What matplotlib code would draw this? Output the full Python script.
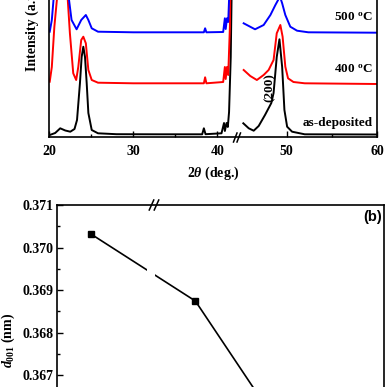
import numpy as np
import matplotlib
matplotlib.use("Agg")
import matplotlib.pyplot as plt
from matplotlib.lines import Line2D

plt.rcParams['font.family'] = ['Liberation Serif', 'DejaVu Serif']
plt.rcParams['font.weight'] = 'bold'
plt.rcParams['mathtext.fontset'] = 'custom'
plt.rcParams['mathtext.rm'] = 'Liberation Serif:bold'
plt.rcParams['mathtext.bf'] = 'Liberation Serif:bold'
plt.rcParams['mathtext.it'] = 'Liberation Serif:italic:bold'

# ---- (a) XRD patterns (stacked intensity, a.u.)
black_l_x = [20.05, 20.7, 21.3, 21.9, 22.5, 23.0, 23.3, 23.65, 23.85, 24.05, 24.25, 24.45,
             24.65, 25.05, 25.8, 28.0, 33.0, 38.2, 38.4, 38.6, 40.5, 40.8, 40.9, 41.1,
             41.25, 41.4, 41.6, 41.8, 42.0]
black_l_y = [2, 4, 8.7, 6.5, 5.3, 8, 17, 54, 80, 90.3, 80, 54,
             24, 7, 3.7, 2.8, 2.7, 2.7, 8.7, 2.8, 3.7, 14, 6, 14,
             10, 25, 80, 200, 400]
black_r_x = [45.2, 45.8, 46.35, 46.9, 47.6, 48.3, 48.55, 48.9, 49.2, 49.5, 49.75, 50.05,
             50.6, 52.0, 60.0]
black_r_y = [13.7, 8.7, 6.3, 11, 22, 34, 44, 80, 97.7, 70, 27, 10.3,
             5.3, 2.7, 2.5]

red_l_x = [20.05, 20.3, 20.6, 20.9, 21.55, 22.2, 22.45, 22.85, 23.2, 23.45, 23.8, 24.05,
           24.35, 24.65, 25.05, 25.8, 30.0, 38.4, 38.55, 38.7, 40.7, 40.9, 41.0, 41.15,
           41.3, 41.5, 41.7, 41.9]
red_l_y = [55.3, 70, 110, 137, 260, 137, 104, 63.7, 57, 70, 97, 100.3,
           93.7, 67, 57, 54.3, 53.7, 53.7, 59.7, 53.7, 55, 70, 58, 70,
           62, 110, 250, 400]
red_r_x = [45.24, 45.97, 46.7, 47.45, 48.0, 48.55, 48.9, 49.3, 49.55, 49.85, 50.15, 50.75,
           52.0, 60.0]
red_r_y = [67, 61, 57, 62, 67, 77, 103.7, 112, 100.3, 70.3, 58.7, 55,
           53.7, 53]

blue_l_x = [20.05, 20.3, 20.5, 21.3, 22.35, 22.65, 23.25, 23.8, 24.35, 24.65, 25.05, 25.8,
            30.0, 38.4, 38.55, 38.7, 40.7, 40.9, 41.0, 41.15, 41.3, 41.5, 41.7]
blue_l_y = [105.3, 117, 137, 300, 137, 117, 107.7, 117, 122, 117, 108.7, 105.3,
            104.7, 104.7, 108.7, 104.7, 105, 118.7, 108, 118.7, 115, 160, 300]
blue_r_x = [45.24, 46.5, 47.45, 48.2, 48.75, 49.05, 49.2, 49.5, 49.85, 50.4, 51.15, 52.4, 60.0]
blue_r_y = [113.7, 107.7, 112, 122, 132, 137, 142, 133.7, 122, 110.3, 106.3, 104.7, 104.3]

labels = ['as-deposited', '400 $^{\\rm o}$C', '500 $^{\\rm o}$C']
label_y = [14, 67, 119]

# ---- (b) d001 spacing
temperature = [25, 400, 500]
d001 = [0.37032, 0.36874, 0.36637]
d_ticks = [0.367, 0.368, 0.369, 0.370, 0.371]


def make_break(xp, dp):
    xp = np.asarray(xp, float)
    dp = np.asarray(dp, float)

    def fwd(x):
        x = np.asarray(x, float)
        s = np.clip(np.searchsorted(xp, x, side='right') - 1, 0, len(xp) - 2)
        return dp[s] + (x - xp[s]) * (dp[s + 1] - dp[s]) / (xp[s + 1] - xp[s])

    def inv(d):
        d = np.asarray(d, float)
        s = np.clip(np.searchsorted(dp, d, side='right') - 1, 0, len(dp) - 2)
        return xp[s] + (d - dp[s]) * (xp[s + 1] - xp[s]) / (dp[s + 1] - dp[s])

    return fwd, inv


W = H = 387.0
fig = plt.figure(figsize=(3.87, 3.87), dpi=100)


def slashes(xc, yc, w, h, gap):
    for dx in (-gap / 2, gap / 2):
        x0, x1 = xc + dx - w / 2, xc + dx + w / 2
        fig.add_artist(Line2D([x0 / W, x1 / W], [1 - (yc + h / 2) / H, 1 - (yc - h / 2) / H],
                              color='black', lw=1.1, transform=fig.transFigure))


# top panel
ax1 = fig.add_axes([49.3 / W, (H - 137) / H, (377 - 49.3) / W, 180 / H])
ax1.set_xscale('function', functions=make_break([20, 42.5, 44.7, 60], [0, 189, 189.5, 327.7]))
ax1.set_xlim(20, 60)
ax1.set_ylim(0, 180)
for xs, ys, c in [(black_l_x, black_l_y, 'black'), (black_r_x, black_r_y, 'black'),
                  (red_l_x, red_l_y, 'red'), (red_r_x, red_r_y, 'red'),
                  (blue_l_x, blue_l_y, 'blue'), (blue_r_x, blue_r_y, 'blue')]:
    ax1.plot(xs, ys, color=c, lw=1.4)
ax1.set_xticks([20, 30, 40, 50, 60])
ax1.set_xticks([25, 35, 55], minor=True)
ax1.set_yticks([])
ax1.tick_params(axis='x', which='both', direction='in', labelsize=10, pad=5.5, width=1)
ax1.tick_params(axis='x', which='major', length=4)
ax1.tick_params(axis='x', which='minor', length=2.5)
for sp in ax1.spines.values():
    sp.set_linewidth(1.2)
for lab, y in zip(labels, label_y):
    ax1.text(59.5, y, lab, ha='right', va='center', fontsize=9.5, fontweight='bold')
ax1.text(48.15, 49, '(200)', rotation=90, ha='center', va='center', fontsize=9.5,
         fontweight='bold')
fig.text(213 / W, 1 - 173 / H, '2$\\theta$ (deg.)', ha='center', va='center', fontsize=10,
         fontweight='bold')
fig.text(32 / W, 1 - 71 / H, 'Intensity (a.u.)', rotation=90, ha='center', va='bottom',
         fontsize=10, fontweight='bold')
slashes(237, 137.5, 3.5, 9, 3.5)

# bottom panel
ax2 = fig.add_axes([57 / W, (H - 438.75) / H, 327 / W, 233.75 / H])
ax2.set_xscale('function', functions=make_break([4, 60, 340, 680], [0, 90, 98, 327]))
ax2.set_xlim(4, 680)
ax2.set_ylim(0.3655, 0.371)
ax2.plot(temperature, d001, color='black', lw=1.2, marker='s', markersize=3.8)
ax2.axvspan(60, 340, color='white', zorder=2.2, lw=0)
ax2.set_yticks(d_ticks)
ax2.set_yticks(np.arange(0.3665, 0.3711, 0.0005), minor=True)
ax2.yaxis.set_major_formatter(matplotlib.ticker.FormatStrFormatter('%.3f'))
ax2.set_xticks(temperature)
ax2.tick_params(axis='both', which='both', direction='in', labelsize=10, pad=2.5, width=1)
ax2.tick_params(axis='x', labelbottom=False)
ax2.tick_params(axis='both', which='major', length=4)
ax2.tick_params(axis='both', which='minor', length=2.5)
for sp in ax2.spines.values():
    sp.set_linewidth(1.2)
ax2.text(0.994, 0.9487, '(b)', transform=ax2.transAxes, ha='right', va='center',
         fontsize=10.5, fontweight='bold', family='Liberation Sans')
fig.text(8 / W, 1 - 340 / H, '$d_{\\rm 001}$ (nm)', rotation=90, ha='center', va='center',
         fontsize=10, fontweight='bold')
slashes(154, 205, 4.5, 10, 5)

fig.savefig('out.png', dpi=100)
